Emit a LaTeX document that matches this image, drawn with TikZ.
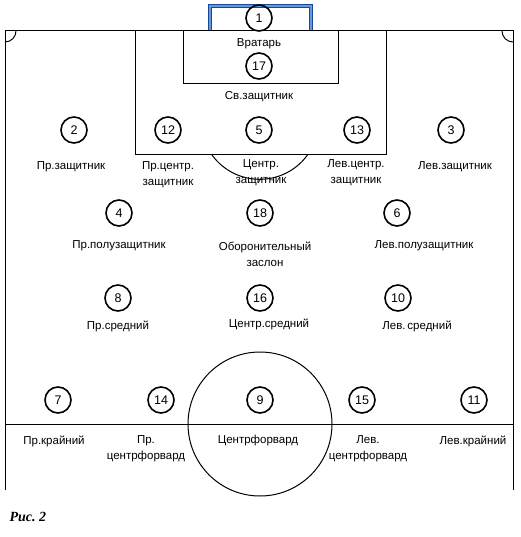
\documentclass[tikz,border=0pt]{standalone}
\usepackage{fontspec}
\setmainfont{Liberation Sans}
\newfontfamily\capfont{Liberation Serif}
\usetikzlibrary{positioning,calc}

\definecolor{goaldark}{RGB}{30,70,150}
\definecolor{goallight}{RGB}{100,155,220}

\tikzset{
  player/.style={circle, draw, line width=1.6pt, minimum size=26pt, inner sep=0pt, font=\fontsize{12.5}{12.5}\selectfont},
  role/.style={align=center, font=\fontsize{11.5}{16}\selectfont},
  pitch/.style={line width=1pt}
}

\begin{document}
\begin{tikzpicture}[x=1pt, y=-1pt]
    \useasboundingbox (0,0) rectangle (520,537);

        % Pitch
    \draw [goaldark, line width=1pt, double=goallight, double distance=2pt] (209.5,31) |- (310.5,6) -- (310.5,31);
    \draw [pitch] (5,490) -- (5,31) -- (513,31) -- (513,490);
    \draw [pitch] (135,31) -- (135,155) -- (386,155) -- (386,31);
    \draw [pitch] (183,31) -- (183,84) -- (338,84) -- (338,31);
    \draw [pitch] (212,155) arc [start angle=216, end angle=324, x radius=59, y radius=-59];
    \draw [pitch] (5,42) arc [start angle=270, end angle=360, x radius=11, y radius=-11];
    \draw [pitch] (502,31) arc [start angle=180, end angle=270, x radius=11, y radius=-11];
    \draw [pitch] (5,424) -- (513,424);
    \draw [pitch] (260,424) circle [radius=72];

        % Players
    \node (p1) [player] at (259,18) {1};
    \node (p17) [player] at (259,66) {17};
    \node (p2) [player] at (74,130) {2};
    \node (p12) [player] at (168,130) {12};
    \node (p5) [player] at (259,130) {5};
    \node (p13) [player] at (357,130) {13};
    \node (p3) [player] at (451,130) {3};
    \node (p4) [player] at (119,213) {4};
    \node (p18) [player] at (260,213) {18};
    \node (p6) [player] at (397,213) {6};
    \node (p8) [player] at (118,298) {8};
    \node (p16) [player] at (260,298) {16};
    \node (p10) [player] at (398,298) {10};
    \node (p7) [player] at (58,400) {7};
    \node (p14) [player] at (161,400) {14};
    \node (p9) [player] at (260,400) {9};
    \node (p15) [player] at (362,400) {15};
    \node (p11) [player] at (474,400) {11};

        % Roles
    \node (goalie) [role] at (259,44) {Вратарь};
    \node (sweeper) [role] at (259,97) {Св.защитник};
    \node (rback) [role] at (71,167) {Пр.защитник};
    \node (rcback) [role] at (168,175) {Пр.центр.\\защитник};
    \node (cback) [role] at (261,173) {Центр.\\защитник};
    \node (lcback) [role] at (356,173) {Лев.центр.\\защитник};
    \node (lback) [role] at (455,167) {Лев.защитник};
    \node (rhalf) [role] at (119,246) {Пр.полузащитник};
    \node (screen) [role] at (265,254) {Оборонительный\\заслон};
    \node (lhalf) [role] at (424,246) {Лев.полузащитник};
    \node (rmid) [role] at (118,326) {Пр.средний};
    \node (cmid) [role] at (269,324) {Центр.средний};
    \node (lmid) [role] at (417,326) {Лев.\,средний};
    \node (rwing) [role] at (54,441) {Пр.крайний};
    \node (rcfwd) [role] at (146,449) {Пр.\\центрфорвард};
    \node (cfwd) [role] at (258,441) {Центрфорвард};
    \node (lcfwd) [role] at (368,449) {Лев.\\центрфорвард};
    \node (lwing) [role] at (473,441) {Лев.крайний};

        % Caption
    \node (caption) [anchor=west, font=\capfont\bfseries\itshape\fontsize{14}{14}\selectfont] at (6,517) {Рис.~2};

\end{tikzpicture}
\end{document}
